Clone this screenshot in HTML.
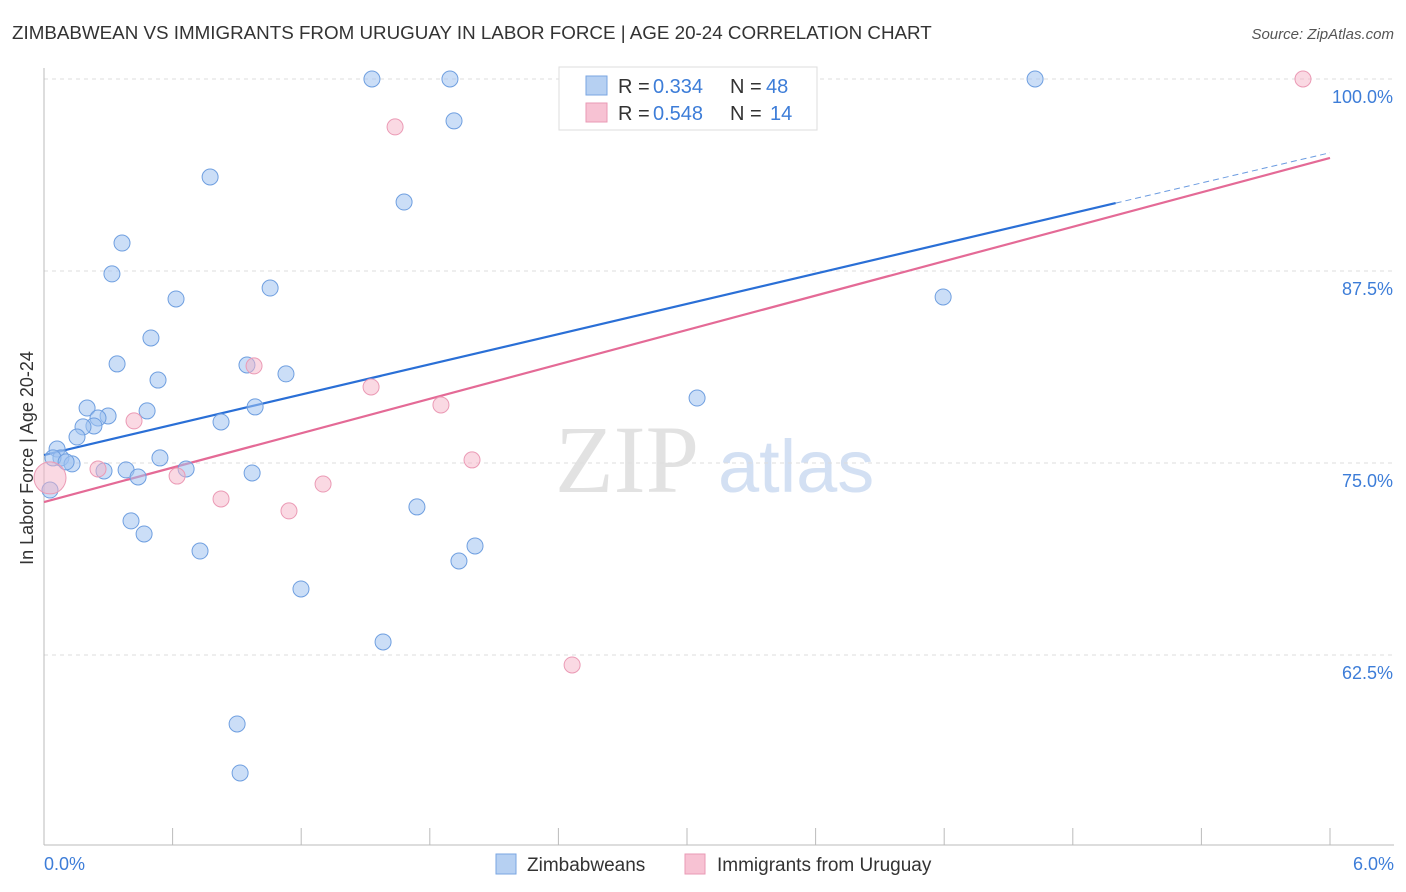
<!DOCTYPE html>
<html><head><meta charset="utf-8"><style>
body{margin:0;background:#fff;font-family:"Liberation Sans",sans-serif;}
#wrap{position:relative;width:1406px;height:892px;overflow:hidden;}
</style></head><body>
<div id="wrap">
<svg id="svg" width="1406" height="892">
<text x="12" y="39" font-size="18.8" fill="#333">ZIMBABWEAN VS IMMIGRANTS FROM URUGUAY IN LABOR FORCE | AGE 20-24 CORRELATION CHART</text>
<text x="1394" y="39" font-size="15" fill="#555" font-style="italic" text-anchor="end">Source: ZipAtlas.com</text>
<text x="33" y="458" font-size="18" fill="#333" text-anchor="middle" transform="rotate(-90 33 458)">In Labor Force | Age 20-24</text>
<text x="555" y="492" font-size="96" fill="#e2e2e2" font-family="Liberation Serif,serif">ZIP</text>
<text x="718" y="492" font-size="74" fill="#d3e0f3">atlas</text>
<g id="grid"></g><g id="lines"></g><g id="pts"></g>
<text x="44" y="870" font-size="18" fill="#3d7dd8">0.0%</text>
<text x="1394" y="870" font-size="18" fill="#3d7dd8" text-anchor="end">6.0%</text>
<g>
<rect x="559" y="67" width="258" height="63" fill="#fff" stroke="#ddd"/>
<rect x="586" y="76" width="21" height="19" fill="#b6d0f2" stroke="#7aa6e2"/>
<rect x="586" y="103" width="21" height="19" fill="#f7c2d3" stroke="#e99ab4"/>
<text x="618" y="93" font-size="20" fill="#333">R =</text>
<text x="653" y="93" font-size="20" fill="#3d7dd8">0.334</text>
<text x="730" y="93" font-size="20" fill="#333">N =</text>
<text x="766" y="93" font-size="20" fill="#3d7dd8">48</text>
<text x="618" y="120" font-size="20" fill="#333">R =</text>
<text x="653" y="120" font-size="20" fill="#3d7dd8">0.548</text>
<text x="730" y="120" font-size="20" fill="#333">N =</text>
<text x="770" y="120" font-size="20" fill="#3d7dd8">14</text>
</g>
<g>
<rect x="496" y="854" width="20" height="20" fill="#b6d0f2" stroke="#7aa6e2"/>
<text x="527" y="871" font-size="19" fill="#333">Zimbabweans</text>
<rect x="685" y="854" width="20" height="20" fill="#f7c2d3" stroke="#e99ab4"/>
<text x="717" y="871" font-size="19" fill="#333">Immigrants from Uruguay</text>
</g>
</svg>
</div>
<script>
const yTicks=[100,87.5,75,62.5];
const yTickLabels=["100.0%","87.5%","75.0%","62.5%"];
const blueX=[1.530,1.894,4.624,1.913,0.775,1.680,0.364,0.317,1.055,0.616,4.195,0.499,0.341,0.947,1.129,0.532,3.047,0.201,0.985,0.481,0.299,0.252,0.233,0.182,0.826,0.154,0.061,0.079,0.042,0.131,0.103,0.541,0.383,0.280,0.663,0.439,0.971,0.028,1.740,0.406,0.467,2.011,0.728,1.936,1.199,1.582,0.901,0.915];
const blueY=[100,100,100,97.27,93.62,91.99,89.32,87.31,86.39,85.68,85.81,83.14,81.45,81.38,80.80,80.40,79.23,78.58,78.65,78.39,78.06,77.93,77.41,77.35,77.67,76.69,75.91,75.33,75.33,74.94,75.07,75.33,74.55,74.48,74.61,74.09,74.35,73.24,72.14,71.23,70.38,69.60,69.27,68.62,66.80,63.35,58.01,54.82];
const pinkX=[5.874,1.638,0.980,1.526,1.852,0.420,1.997,0.252,0.621,1.302,0.826,1.143,2.464,0.028];
const pinkY=[100,96.88,81.32,79.95,78.78,77.74,75.20,74.61,74.15,73.63,72.66,71.88,61.85,74.03];
const blueTrend=[75.52,3.28];
const pinkTrend=[72.46,3.733];
const NS="http://www.w3.org/2000/svg";
const X=v=>44+v/6*1286, Y=v=>79+(100-v)*15.36;
function mk(t,a,p){const e=document.createElementNS(NS,t);for(const k in a)e.setAttribute(k,a[k]);p.appendChild(e);return e;}
const grid=document.getElementById('grid'),lines=document.getElementById('lines'),pts=document.getElementById('pts');
yTicks.forEach((t,i)=>{
 const l=mk('line',{x1:44,x2:1394,y1:Y(t),y2:Y(t),stroke:'#ddd','stroke-dasharray':'4,4'},grid);
 
 
 const tx=mk('text',{x:1393,y:Y(t)+24,'font-size':18,fill:'#3d7dd8','text-anchor':'end'},grid);
 tx.textContent=yTickLabels[i];
 
 
});
const ax=mk('line',{x1:44,x2:44,y1:68,y2:845,stroke:'#bbb'},grid);


const bx=mk('line',{x1:44,x2:1394,y1:845,y2:845,stroke:'#bbb'},grid);


for(let i=1;i<=10;i++){const t=mk('line',{x1:X(i*0.6),x2:X(i*0.6),y1:828,y2:845,stroke:'#bbb'},grid);
 
 }
function trend(tr,x0,x1,c,dash,name){const l=mk('line',{x1:X(x0),y1:Y(tr[0]+tr[1]*x0),x2:X(x1),y2:Y(tr[0]+tr[1]*x1),stroke:c,'stroke-width':dash?1:2.2},lines);
 if(dash)l.setAttribute('stroke-dasharray','6,4');
 
 }
trend(blueTrend,0,5,'#2a6fd6',false,'blue-trend-line');
trend(blueTrend,5,6,'#6b9be0',true,'blue-trend-extension');
trend(pinkTrend,0,6,'#e46a96',false,'pink-trend-line');
blueX.forEach((v,i)=>{const c=mk('circle',{cx:X(v),cy:Y(blueY[i]),r:8,fill:'rgba(160,195,240,0.55)',stroke:'#6f9fe0','stroke-width':1},pts);
 
 });
pinkX.forEach((v,i)=>{const c=mk('circle',{cx:X(v),cy:Y(pinkY[i]),r:i==13?16:8,fill:'rgba(245,180,200,0.5)',stroke:'#eb9ab5','stroke-width':1},pts);
 
 });
</script>
</body></html>
